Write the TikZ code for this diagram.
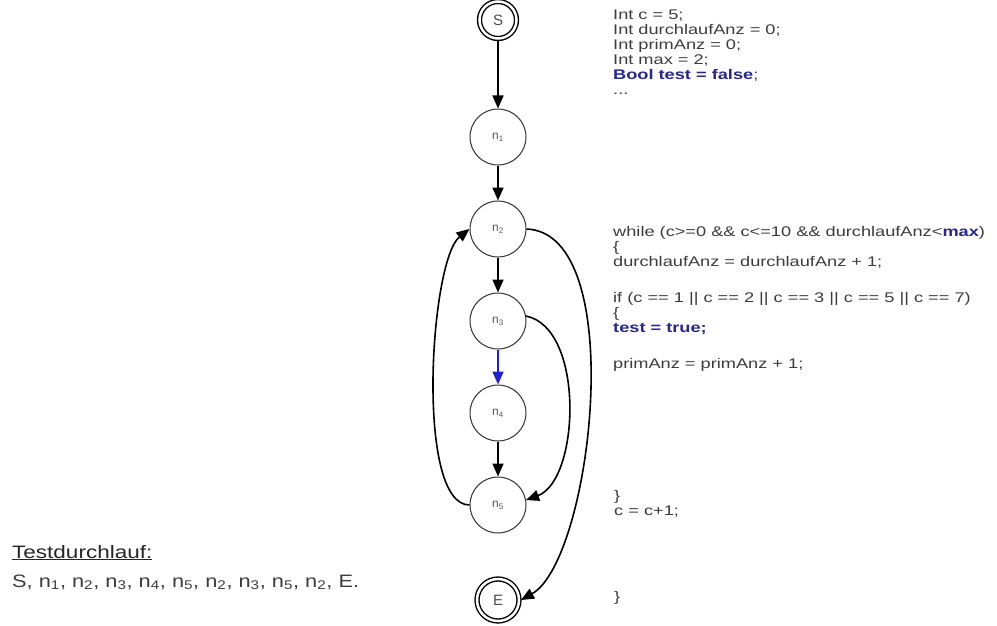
\documentclass[tikz,border=0pt]{standalone}
\usepackage{fontspec}
\setmainfont{Liberation Sans}
\usepackage{graphicx}
\usepackage{tikz}
\usetikzlibrary{arrows.meta,positioning}
\definecolor{codegray}{RGB}{60,60,60}
\definecolor{codeblue}{RGB}{40,40,140}
\definecolor{edgeblue}{RGB}{30,30,210}
\newcommand{\wide}[2][1.3]{\scalebox{#1}[1]{#2}}
\tikzstyle{state}=[circle, draw=black!80, line width=1pt,% plain program node
minimum size=56pt, inner sep=0pt, font=\fontsize{12}{12}\selectfont, text=black!65]
\tikzstyle{term}=[circle, draw=black, double, double distance=2.5pt,% start and end
line width=1.4pt, inner sep=0pt, outer sep=2pt, font=\fontsize{15}{15}\selectfont, text=black!70]
\tikzstyle{flow}=[-{Triangle[length=13pt,width=11pt]}, line width=1.6pt]
\tikzstyle{code}=[anchor=base west, inner sep=0pt, text=codegray, font=\fontsize{14}{15}\selectfont]

\begin{document}
\begin{tikzpicture}[x=1pt,y=-1pt]
\useasboundingbox (0,0) rectangle (997,626);
\node[term, minimum size=37pt] (S) at (498,20) {S};
\node[state] (n1) at (498,137) {n\textsubscript{1}};
\node[state] (n2) at (498,229) {n\textsubscript{2}};
\node[state] (n3) at (498,321) {n\textsubscript{3}};
\node[state] (n4) at (498,413) {n\textsubscript{4}};
\node[state] (n5) at (498,505) {n\textsubscript{5}};
\node[term, minimum size=42pt] (E) at (498,600) {E};
\draw[flow] (S) -- (n1);
\draw[flow] (n1) -- (n2);
\draw[flow] (n2) -- (n3);
\draw[flow, edgeblue] (n3) -- (n4);
\draw[flow] (n4) -- (n5);
\draw[flow] (n5.west) .. controls (415,505) and (430,260) .. (n2.west);
\draw[flow] (n3.10) .. controls (585,328) and (580,480) .. (n5.10);
\draw[flow] (n2.east) .. controls (630,233) and (592,560) .. (E.east);
% program text
\node[code] (decl) at (613,20) {\wide{\begin{tabular}[t]{@{}l@{}}
Int c = 5;\\
Int durchlaufAnz = 0;\\
Int primAnz = 0;\\
Int max = 2;\\
{\color{codeblue}\bfseries Bool test = false};\\
...\end{tabular}}};
\node[code] (loop) at (613,236) {\wide{\begin{tabular}[t]{@{}l@{}}
while (c>=0 \&\& c<=10 \&\& durchlaufAnz<{\color{codeblue}\bfseries max})\\
\{\\
durchlaufAnz = durchlaufAnz + 1;\end{tabular}}};
\node[code] (cond) at (613,302) {\wide{\begin{tabular}[t]{@{}l@{}}
if (c == 1 || c == 2 || c == 3 || c == 5 || c == 7)\\
\{\\
{\color{codeblue}\bfseries test = true;}\end{tabular}}};
\node[code] (count) at (613,368) {\wide{primAnz = primAnz + 1;}};
\node[code] (step) at (614,500) {\wide{\begin{tabular}[t]{@{}l@{}}
\}\\
c = c+1;\end{tabular}}};
\node[code] (close) at (614,601) {\wide{\}}};
% test run
\node[code, text=black!85, font=\fontsize{18}{18}\selectfont] (runtitle) at (12,558) {\wide[1.25]{\underline{Testdurchlauf:}}};
\node[code, font=\fontsize{18}{18}\selectfont] (run) at (12,587) {\wide[1.21]{S, n\textsubscript{1}, n\textsubscript{2}, n\textsubscript{3}, n\textsubscript{4}, n\textsubscript{5}, n\textsubscript{2}, n\textsubscript{3}, n\textsubscript{5}, n\textsubscript{2}, E.}};
\end{tikzpicture}
\end{document}
